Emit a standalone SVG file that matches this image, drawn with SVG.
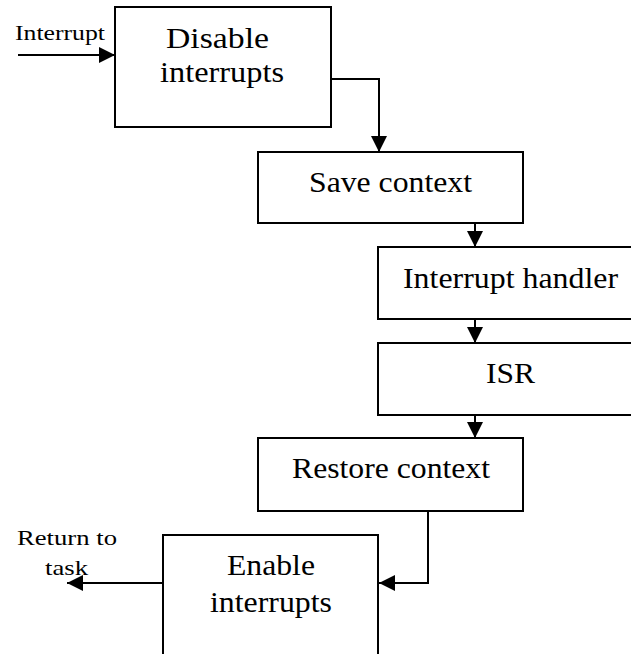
<svg xmlns="http://www.w3.org/2000/svg" width="631" height="654" viewBox="0 0 631 654">
<style>
.box{fill:#fff;stroke:#000;stroke-width:2}
.t{font-size:29px;fill:#000}
.s{font-size:21px;fill:#000}
.c{fill:none;stroke:#000;stroke-width:2;marker-end:url(#ah)}
</style>
<defs>
<marker id="ah" markerUnits="userSpaceOnUse" markerWidth="16" markerHeight="16" refX="16" refY="8" orient="auto" viewBox="0 0 16 16">
<path d="M0,0 L16,8 L0,16 z" fill="#000"/>
</marker>
</defs>
<rect width="631" height="654" fill="#fff"/>
<g id="connectors">
<path class="c" d="M18,55 H115"/>
<path class="c" d="M331,79 H379 V152"/>
<path class="c" d="M475,223 V247"/>
<path class="c" d="M475,319 V343"/>
<path class="c" d="M475,415 V438"/>
<path class="c" d="M428,511 V583 H379"/>
<path class="c" d="M163,583 H67"/>
</g>
<g font-family="Liberation Serif, Times New Roman, Times, serif">
<g id="label-interrupt"><text class="s" x="15" y="40" textLength="90" lengthAdjust="spacingAndGlyphs">Interrupt</text></g>
<g id="label-return">
<text class="s" x="17" y="545" textLength="100" lengthAdjust="spacingAndGlyphs">Return to</text>
<text class="s" x="45" y="575" textLength="43" lengthAdjust="spacingAndGlyphs">task</text>
</g>
<g id="disable">
<rect class="box" x="115" y="7" width="216" height="120"/>
<text class="t" x="166" y="48" textLength="103" lengthAdjust="spacingAndGlyphs">Disable</text>
<text class="t" x="160" y="82" textLength="124" lengthAdjust="spacingAndGlyphs">interrupts</text>
</g>
<g id="save">
<rect class="box" x="258" y="152" width="265" height="71"/>
<text class="t" x="309" y="192" textLength="163" lengthAdjust="spacingAndGlyphs">Save context</text>
</g>
<g id="handler">
<rect class="box" x="378" y="247" width="270" height="72"/>
<text class="t" x="403" y="288" textLength="215" lengthAdjust="spacingAndGlyphs">Interrupt handler</text>
</g>
<g id="isr">
<rect class="box" x="378" y="343" width="270" height="72"/>
<text class="t" x="486" y="383" textLength="49" lengthAdjust="spacingAndGlyphs">ISR</text>
</g>
<g id="restore">
<rect class="box" x="258" y="438" width="265" height="73"/>
<text class="t" x="292" y="478" textLength="198" lengthAdjust="spacingAndGlyphs">Restore context</text>
</g>
<g id="enable">
<rect class="box" x="163" y="535" width="215" height="130"/>
<text class="t" x="227" y="575" textLength="88" lengthAdjust="spacingAndGlyphs">Enable</text>
<text class="t" x="210" y="612" textLength="122" lengthAdjust="spacingAndGlyphs">interrupts</text>
</g>
</g>
</svg>
